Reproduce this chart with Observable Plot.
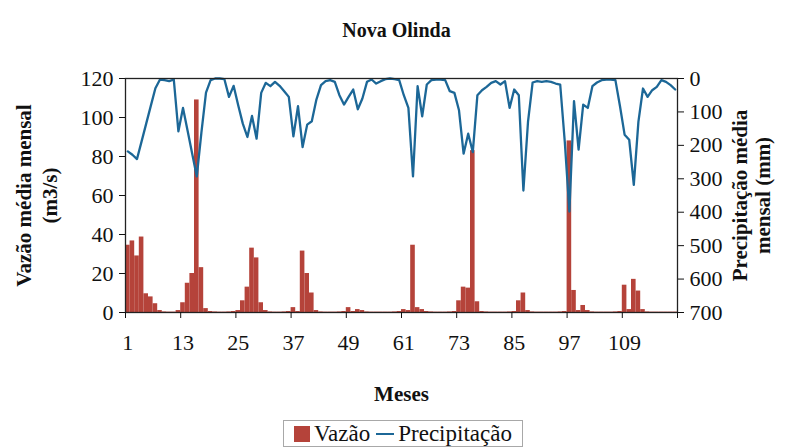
<!DOCTYPE html>
<html>
<head>
<meta charset="utf-8">
<script src="https://cdn.jsdelivr.net/npm/d3@7"></script>
<script src="https://cdn.jsdelivr.net/npm/@observablehq/plot@0.6"></script>
<style>
  body { margin: 0; background: #fff; font-family: "Liberation Serif", "Times New Roman", serif; color: #111; }
  #wrap { width: 793px; height: 448px; position: relative; overflow: hidden; }
  #title { height: 60px; box-sizing: border-box; padding-top: 20px; text-align: center; font-weight: bold; font-size: 20px; line-height: 20px; }
  #chart svg { display: block; }
  #legend { position: absolute; left: 283px; top: 420px; width: 240px; height: 27px; box-sizing: border-box;
            border: 1px solid #a8a8a8; display: flex; align-items: center; justify-content: center;
            font-size: 23px; line-height: 23px; white-space: nowrap; }
  #legend .sw { display: inline-block; width: 16px; height: 16px; background: #b5433a; margin-right: 4px; }
  #legend .ln { display: inline-block; width: 18px; height: 2px; background: #1c6797; margin: 0 4px 0 6px; }
</style>
</head>
<body>
<div id="wrap">
  <div id="title">Nova Olinda</div>
  <div id="chart"></div>
  <div id="legend"><span class="sw"></span>Vazão<span class="ln"></span>Precipitação</div>
</div>
<script>
// Monthly series, months 1..120
const months = d3.range(1, 121);

// Mean monthly streamflow (m3/s)
const vazao = [
  34.5, 36.7, 29, 38.7, 9.6, 8, 4.5, 1, 0.3, 0.2, 0.2, 1,
  5, 15, 20, 109, 23, 2, 0.5, 0.3, 0.2, 0.2, 0.3, 0.5,
  1, 6, 13, 33, 28, 5, 1, 0.3, 0.2, 0.2, 0.3, 0.5,
  2.5, 0.5, 31.5, 20, 10, 1, 0.3, 0.2, 0.2, 0.2, 0.3, 0.5,
  2.5, 0.5, 1.5, 1, 0.3, 0.2, 0.2, 0.2, 0.2, 0.2, 0.3, 0.5,
  1.5, 1, 34.5, 2.5, 1.5, 0.5, 0.3, 0.2, 0.2, 0.2, 0.3, 0.5,
  6, 13, 12.5, 83, 5.5, 0.5, 0.3, 0.2, 0.2, 0.2, 0.2, 0.3,
  0.5, 6, 10, 1, 0.3, 0.2, 0.2, 0.2, 0.2, 0.2, 0.3, 0.5,
  88, 11.3, 1, 3.6, 1, 0.3, 0.2, 0.2, 0.2, 0.2, 0.3, 0.5,
  14, 1.5, 17, 11, 1.5, 0.3, 0.2, 0.2, 0.2, 0.2, 0.2, 0.2
];

// Mean monthly precipitation (mm)
const precipitacao = [
  218, 228, 241, 188, 135, 82, 29, 3, 5, 8, 3, 158,
  88, 156, 225, 293, 162, 42, 5, 0, 0, 2, 55, 22,
  80, 135, 175, 112, 180, 43, 13, 23, 10, 22, 38, 55,
  173, 83, 205, 138, 128, 63, 20, 8, 5, 10, 50, 78,
  55, 33, 92, 60, 10, 3, 15, 8, 2, 0, 2, 5,
  50, 88, 293, 23, 113, 18, 5, 3, 3, 5, 38, 43,
  95, 225, 165, 220, 50, 35, 25, 13, 8, 18, 8, 88,
  33, 50, 335, 130, 12, 8, 10, 8, 10, 15, 18, 190,
  398, 68, 213, 78, 88, 23, 12, 5, 3, 3, 5, 83,
  168, 183, 318, 130, 30, 55, 35, 25, 5, 10, 20, 33
];

// Axis ticks
const monthLabels = [1, 13, 25, 37, 49, 61, 73, 85, 97, 109];
const monthBoundaries = d3.range(0.5, 121, 12);
const vazaoTicks = [0, 20, 40, 60, 80, 100, 120];
const precipTicks = [0, 100, 200, 300, 400, 500, 600, 700];

// Precipitation shares the plot on a reversed secondary scale
const VAZAO_MAX = 120, PRECIP_MAX = 700;
const precipToY = p => VAZAO_MAX * (1 - p / PRECIP_MAX);
const yToPrecip = v => Math.round(PRECIP_MAX * (1 - v / VAZAO_MAX));

const rows = months.map((m, i) => ({ m, q: vazao[i], p: precipitacao[i] }));

const font = "Liberation Serif, Times New Roman, serif";
const fs = 22;

const chart = Plot.plot({
  width: 793,
  height: 350,
  marginTop: 18,
  marginBottom: 98,
  marginLeft: 125,
  marginRight: 116,
  x: { domain: [0.5, 120.5] },
  y: { domain: [0, VAZAO_MAX] },
  style: { fontFamily: font, fontSize: fs + "px", color: "#111", background: "#fff", overflow: "visible" },
  marks: [
    Plot.rect(rows, { x1: d => d.m - 0.5, x2: d => d.m + 0.5, y1: 0, y2: "q", fill: "#b5433a" }),
    Plot.line(rows, { x: "m", y: d => precipToY(d.p), stroke: "#1c6797", strokeWidth: 2.3 }),
    Plot.frame({ stroke: "#222", strokeWidth: 1.3 }),
    Plot.axisY(vazaoTicks, { anchor: "left", tickSize: 6, tickPadding: 6, label: null, fontSize: fs }),
    Plot.axisY(precipTicks.map(precipToY), { anchor: "right", tickSize: 6, tickPadding: 6, tickFormat: yToPrecip, label: null, fontSize: fs }),
    Plot.axisX(monthLabels, { tickSize: 0, tickPadding: 22, label: null, fontSize: fs }),
    Plot.axisX(monthBoundaries, { tickSize: 6, tickFormat: () => "", label: null }),
    Plot.text(["Meses"], { frameAnchor: "bottom", dy: 88, fontWeight: "bold", fontSize: 21 }),
    Plot.text(["Vazão média mensal\n(m3/s)"], {
      frameAnchor: "left", textAnchor: "middle", rotate: -90, dx: -90, lineHeight: 1.22, fontWeight: "bold", fontSize: 21
    }),
    Plot.text(["Precipitação média\nmensal (mm)"], {
      frameAnchor: "right", textAnchor: "middle", rotate: -90, dx: 74, lineHeight: 1.1, fontWeight: "bold", fontSize: 21
    })
  ]
});

document.getElementById("chart").appendChild(chart);
</script>
</body>
</html>
